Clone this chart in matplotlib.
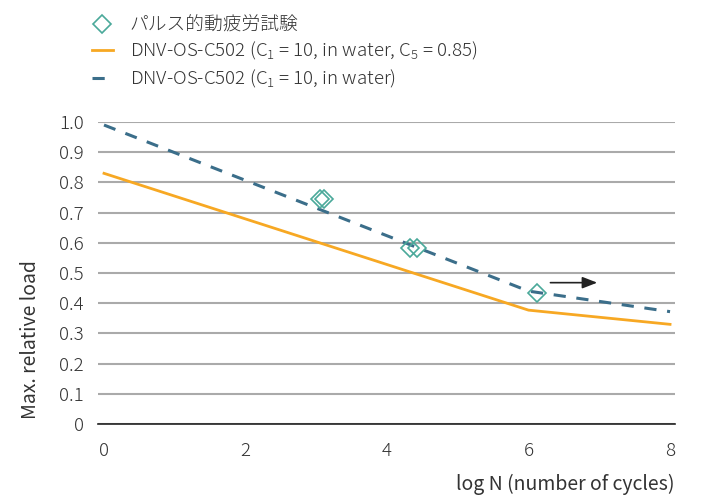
import matplotlib
matplotlib.use("Agg")
import matplotlib.pyplot as plt

plt.rcParams['font.family'] = ['Noto Sans CJK JP', 'DejaVu Sans']
plt.rcParams['font.weight'] = 'light'
plt.rcParams['mathtext.fontset'] = 'custom'
plt.rcParams['mathtext.rm'] = 'Noto Sans CJK JP:light'

# data
c502_x = [0, 6, 8]
c502_c5_y = [0.83, 0.377, 0.33]
c502_y = [0.99, 0.44, 0.372]
test_x = [3.05, 3.11, 4.33, 4.43, 6.12]
test_y = [0.745, 0.745, 0.582, 0.582, 0.435]
arrow_start = (6.27, 0.468)
arrow_end = (7.01, 0.468)
yticks = [0, 0.1, 0.2, 0.3, 0.4, 0.5, 0.6, 0.7, 0.8, 0.9, 1.0]
ytick_labels = ['0', '0.1', '0.2', '0.3', '0.4', '0.5', '0.6', '0.7', '0.8', '0.9', '1.0']
xticks = [0, 2, 4, 6, 8]
xtick_labels = ['0', '2', '4', '6', '8']

W, H = 709, 495
fig = plt.figure(figsize=(W / 100, H / 100), dpi=100)
ax = fig.add_axes([98 / W, 1 - 424 / H, (675 - 98) / W, (424 - 122) / H])

orange = '#F7A823'
blue = '#3B6E8A'
teal = '#4AA99A'

ax.plot(test_x, test_y, linestyle='none', marker='D', markersize=9,
        markerfacecolor='none', markeredgecolor=teal, markeredgewidth=1.2,
        label='パルス的動疲労試験', zorder=4)
ax.plot(c502_x, c502_c5_y, color=orange, lw=2,
        label='DNV-OS-C502 (C$_\\mathrm{1}$ = 10, in water, C$_\\mathrm{5}$ = 0.85)', zorder=3)
ax.plot(c502_x, c502_y, color=blue, lw=2.2, linestyle=(0, (4, 3.5)),
        label='DNV-OS-C502 (C$_\\mathrm{1}$ = 10, in water)', zorder=3)

ax.annotate('', xy=arrow_end, xytext=arrow_start,
            arrowprops=dict(arrowstyle='-|>,head_length=0.9,head_width=0.35',
                            color='#222222', lw=1.2), zorder=5)

ax.set_xlim(-0.085, 8.07)
ax.set_ylim(0, 1.0)
ax.set_yticks(yticks)
ax.set_yticklabels(ytick_labels)
ax.set_xticks(xticks)
ax.set_xticklabels(xtick_labels)
ax.tick_params(axis='both', length=0, labelsize=13.5, colors='#333333')
ax.tick_params(axis='y', pad=10)
ax.tick_params(axis='x', pad=13)

ax.grid(axis='y', color='#aaaaaa', lw=1.5, zorder=0)
ax.set_axisbelow(True)
for s in ['top', 'right', 'left']:
    ax.spines[s].set_visible(False)
ax.spines['bottom'].set_color('#222222')
ax.spines['bottom'].set_linewidth(1.2)

ax.set_xlabel('log N (number of cycles)', fontsize=14, color='#333333', loc='right')
ax.xaxis.set_label_coords(1.0, -0.165)
ax.set_ylabel('Max. relative load', fontsize=14, color='#333333')
ax.yaxis.set_label_coords(-0.098, 0.28)

leg = fig.legend(loc='upper left', bbox_to_anchor=(84 / W, 1 - 9 / H), frameon=False,
                 prop={'size': 13.5, 'weight': 'light'}, handlelength=1.15,
                 handletextpad=0.9, labelspacing=0.3, borderaxespad=0)
for t in leg.get_texts():
    t.set_color('#333333')

fig.savefig('out.png', dpi=100, facecolor='white')
